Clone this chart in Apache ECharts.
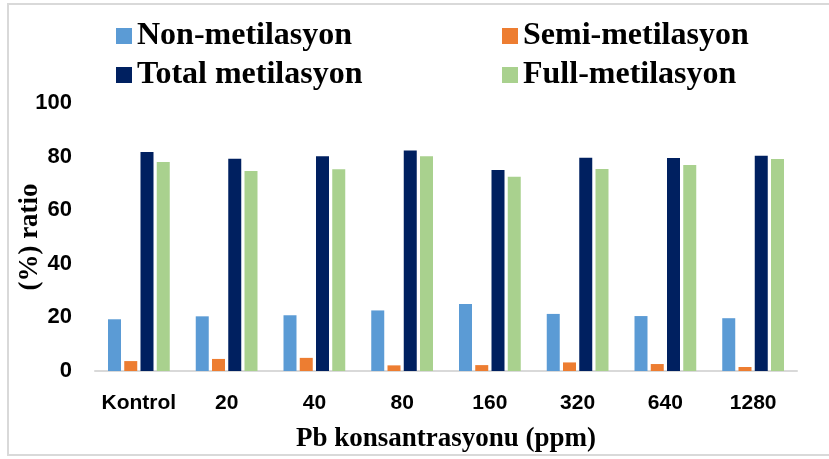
<!DOCTYPE html>
<html>
<head>
<meta charset="utf-8">
<script src="https://cdn.jsdelivr.net/npm/echarts@6/dist/echarts.min.js"></script>
<style>
	html, body { margin: 0; padding: 0; background: #fff; }
	#ech1 { width: 829px; height: 459px; }
</style>
</head>
<body>
<div id="ech1"></div>
<script>
	// 数据
	var categories = [ "Kontrol", "20", "40", "80", "160", "320", "640", "1280" ];
	var nonMet = [ 19.3, 20.4, 20.8, 22.6, 25.0, 21.3, 20.5, 19.7 ];
	var semiMet = [ 3.7, 4.5, 4.9, 2.1, 2.2, 3.2, 2.6, 1.5 ];
	var totalMet = [ 81.7, 79.2, 80.1, 82.3, 75.0, 79.6, 79.5, 80.3 ];
	var fullMet = [ 78.0, 74.6, 75.3, 80.1, 72.5, 75.4, 76.9, 79.1 ];
	var yTicks = [ 0, 20, 40, 60, 80, 100 ];

	var myChart1 = echarts.init(document.getElementById('ech1'));
	var serif = '"Liberation Serif", "Times New Roman", serif';
	var sans = '"Liberation Sans", Arial, sans-serif';

	var legendText = { fontFamily : serif, fontWeight : 'bold', fontSize : 32, color : '#000', lineHeight : 30 };

	function bar(name, data, color) {
		return {
			name : name,
			type : 'bar',
			data : data,
			barWidth : 13,
			barGap : '25%',
			itemStyle : { color : color }
		};
	}

	function legendCol(left, names) {
		return {
			orient : 'vertical',
			left : left,
			top : 20,
			padding : 0,
			icon : 'rect',
			itemWidth : 16,
			itemHeight : 16,
			itemGap : 7,
			itemTextGap : 5,
			itemStyle : { borderWidth : 0 },
			textStyle : legendText,
			data : names
		};
	}

	var option = {
		animation : false,
		graphic : [ {
			type : 'rect',
			shape : { x : 8, y : 4, width : 840, height : 451 },
			style : { fill : 'none', stroke : '#d9d9d9', lineWidth : 2 }
		} ],
		legend : [
			legendCol(116, [ "Non-metilasyon", "Total metilasyon" ]),
			legendCol(502, [ "Semi-metilasyon", "Full-metilasyon" ])
		],
		grid : { left : 95, right : 32, top : 103, bottom : 88, outerBoundsMode : 'none' },
		xAxis : {
			type : 'category',
			data : categories,
			axisTick : { show : false },
			axisLine : { lineStyle : { color : '#d9d9d9', width : 2 } },
			axisLabel : { interval : 0, margin : 22, fontFamily : sans, fontWeight : 'bold', fontSize : 21, color : '#000' },
			name : 'Pb konsantrasyonu (ppm)',
			nameLocation : 'middle',
			nameGap : 55,
			nameMoveOverlap : false,
			nameTextStyle : { fontFamily : serif, fontWeight : 'bold', fontSize : 27, color : '#000' }
		},
		yAxis : {
			type : 'value',
			min : yTicks[0],
			max : yTicks[yTicks.length - 1],
			interval : 20,
			splitLine : { show : false },
			axisLine : { show : false },
			axisTick : { show : false },
			axisLabel : { margin : 23, fontFamily : sans, fontWeight : 'bold', fontSize : 22, color : '#000' },
			name : '(%) ratio',
			nameLocation : 'middle',
			nameGap : 51,
			nameMoveOverlap : false,
			nameTextStyle : { fontFamily : serif, fontWeight : 'bold', fontSize : 27, color : '#000' }
		},
		series : [
			bar("Non-metilasyon", nonMet, '#5b9bd5'),
			bar("Semi-metilasyon", semiMet, '#ed7d31'),
			bar("Total metilasyon", totalMet, '#002060'),
			bar("Full-metilasyon", fullMet, '#a9d18e')
		]
	};
	myChart1.setOption(option);
</script>
</body>
</html>
